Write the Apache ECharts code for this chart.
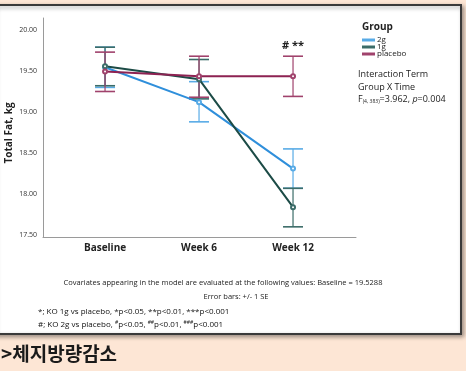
<!DOCTYPE html>
<html><head><meta charset="utf-8">
<script src="https://cdn.jsdelivr.net/npm/echarts@6/dist/echarts.min.js"></script>
<style>html,body{margin:0;padding:0;background:#fde6d5;}#c{width:466px;height:371px;}</style>
</head><body><div id="c"></div>
<script>
var categories = ['Baseline', 'Week 6', 'Week 12'];
var yTicks = [17.5, 18.0, 18.5, 19.0, 19.5, 20.0];
var groups = ['2g', '1g', 'placebo'];
var mean2g = [19.545, 19.12, 18.31];
var low2g = [19.30, 18.88, 18.07];
var high2g = [19.79, 19.37, 18.55];
var mean1g = [19.557, 19.40, 17.84];
var low1g = [19.32, 19.16, 17.60];
var high1g = [19.79, 19.64, 18.07];
var meanPl = [19.495, 19.435, 19.435];
var lowPl = [19.25, 19.18, 19.19];
var highPl = [19.73, 19.68, 19.68];

var lineColors = ['#2f8fdb', '#1c4b46', '#8d2252'];
var errColors = ['#58abe6', '#3b6c68', '#a0426c'];
var means = [mean2g, mean1g, meanPl];
var lows = [low2g, low1g, lowPl];
var highs = [high2g, high1g, highPl];

var series = [];
groups.forEach(function (g, gi) {
  var errData = categories.map(function (c, i) { return [i, lows[gi][i], highs[gi][i]]; });
  series.push({
    type: 'custom', name: g + ' err', silent: true, z: 2,
    renderItem: function (params, api) {
      var x = api.value(0);
      var lo = api.coord([x, api.value(1)]);
      var hi = api.coord([x, api.value(2)]);
      var hw = 10;
      var st = { stroke: errColors[gi], lineWidth: 1.2 };
      return { type: 'group', children: [
        { type: 'line', shape: { x1: lo[0], y1: lo[1], x2: hi[0], y2: hi[1] }, style: st },
        { type: 'line', shape: { x1: lo[0] - hw, y1: lo[1], x2: lo[0] + hw, y2: lo[1] }, style: { stroke: errColors[gi], lineWidth: 1.6 } },
        { type: 'line', shape: { x1: hi[0] - hw, y1: hi[1], x2: hi[0] + hw, y2: hi[1] }, style: { stroke: errColors[gi], lineWidth: 1.6 } }
      ] };
    },
    encode: { x: 0, y: [1, 2] },
    data: errData
  });
});
groups.forEach(function (g, gi) {
  series.push({
    type: 'line', name: g, z: 3,
    data: categories.map(function (c, i) { return [i, means[gi][i]]; }),
    symbol: 'emptyCircle', symbolSize: 4, showSymbol: true,
    lineStyle: { color: lineColors[gi], width: 2 },
    itemStyle: { color: errColors[gi], borderWidth: 1 },
    emphasis: { disabled: true }
  });
});

var chart = echarts.init(document.getElementById('c'));
var ff = 'Open Sans, Lato, sans-serif';
chart.setOption({
  animation: false,
  backgroundColor: '#fde6d5',
  grid: { left: 43, right: 110, top: 18, bottom: 134 },
  xAxis: {
    type: 'value', min: -0.66, max: 2.67,
    splitLine: { show: false },
    axisLine: { show: true, onZero: false, lineStyle: { color: '#9a9a9a', width: 1 } },
    axisTick: { show: false },
    axisLabel: { customValues: [0, 1, 2], formatter: function (v) { return categories[Math.round(v)]; },
      color: '#222', fontSize: 10, fontWeight: 'bold', fontFamily: ff, margin: 6 }
  },
  yAxis: {
    type: 'value', min: 17.476, max: 20.146,
    splitLine: { show: false },
    axisLine: { show: true, onZero: false, lineStyle: { color: '#9a9a9a', width: 1 } },
    axisTick: { show: false },
    axisLabel: { customValues: yTicks, formatter: function (v) { return v.toFixed(2); },
      color: '#333', fontSize: 7, fontFamily: ff, margin: 6 }
  },
  legend: {
    data: groups, orient: 'vertical', left: 357, top: 31,
    itemWidth: 13, itemHeight: 3, itemGap: -1, icon: 'rect',
    textStyle: { fontSize: 8, color: '#222', fontFamily: ff, padding: [0, 0, 0, -3] },
    selectedMode: false
  },
  graphic: [
    { type: 'rect', z: -10, shape: { x: -6, y: 5, width: 467, height: 329 },
      style: { fill: '#ffffff', stroke: '#3a3a3a', lineWidth: 2, shadowBlur: 4, shadowOffsetX: 2, shadowOffsetY: 2, shadowColor: 'rgba(0,0,0,0.35)' } },
    { type: 'text', style: { text: 'Total Fat, kg', x: 0, y: 0, fill: '#222', font: 'bold 10px ' + ff, align: 'center', verticalAlign: 'middle' },
      x: 9, y: 133, rotation: Math.PI / 2 },
    { type: 'text', style: { text: 'Group', x: 362, y: 27, fill: '#222', font: 'bold 10px ' + ff, verticalAlign: 'middle' } },
    { type: 'text', style: { text: 'Interaction Term', x: 358, y: 74, fill: '#222', font: '9px ' + ff, verticalAlign: 'middle' } },
    { type: 'text', style: { text: 'Group X Time', x: 358, y: 87, fill: '#222', font: '9px ' + ff, verticalAlign: 'middle' } },
    { type: 'text', style: {
      text: 'F{sub|(4, 383)}=3.962, {it|p}=0.004', x: 358, y: 99, fill: '#222', font: '9px ' + ff, verticalAlign: 'middle',
      rich: { sub: { fontSize: 5, fontFamily: ff, fill: '#222', padding: [5, 0, 0, 0] }, it: { fontStyle: 'italic', fontSize: 9, fontFamily: ff, fill: '#222' } } } },
    { type: 'text', style: { text: '# **', x: 293, y: 46, fill: '#222', font: 'bold 11px ' + ff, align: 'center', verticalAlign: 'middle' } },
    { type: 'text', style: { text: 'Covariates appearing in the model are evaluated at the following values: Baseline = 19.5288',
      x: 223, y: 283, fill: '#222', font: '7.5px ' + ff, align: 'center', verticalAlign: 'middle' } },
    { type: 'text', style: { text: 'Error bars: +/- 1 SE', x: 236, y: 297, fill: '#222', font: '7.5px ' + ff, align: 'center', verticalAlign: 'middle' } },
    { type: 'text', style: { text: '*; KO 1g vs placebo, *p<0.05, **p<0.01, ***p<0.001', x: 38, y: 312, fill: '#111', font: '8px ' + ff, verticalAlign: 'middle' } },
    { type: 'text', style: {
      text: '#; KO 2g vs placebo, {s|#}p<0.05, {s|##}p<0.01, {s|###}p<0.001', x: 38, y: 325, fill: '#111', font: '8px ' + ff, verticalAlign: 'middle',
      rich: { s: { fontSize: 5, fontFamily: ff, fill: '#111', padding: [0, 0, 4, 0] } } } },
    { type: 'text', style: { text: '>체지방량감소', x: 1, y: 354, fill: '#1a1a1a', font: 'bold 19px "Noto Sans CJK KR"', verticalAlign: 'middle' } }
  ],
  series: series
});
</script></body></html>
